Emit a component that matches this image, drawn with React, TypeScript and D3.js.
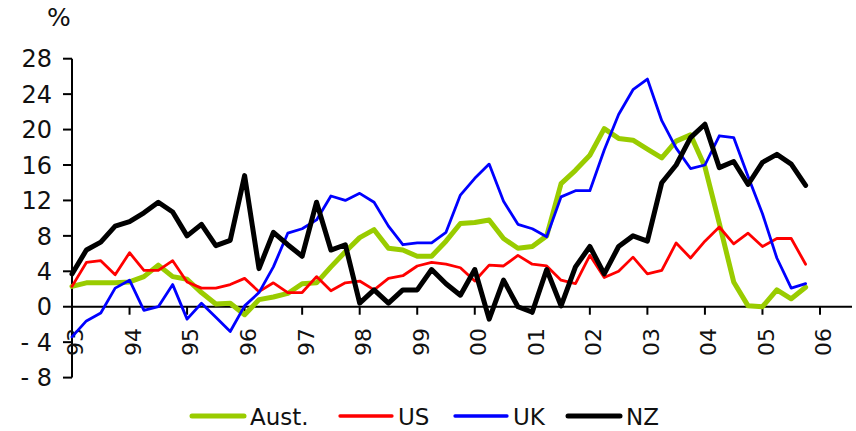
import React from "react";
import * as d3 from "d3";

const yearLabels = ["93","94","95","96","97","98","99","00","01","02","03","04","05","06"];
const yTicks = [-8, -4, 0, 4, 8, 12, 16, 20, 24, 28];

// Quarterly values, 93Q1 .. 05Q4
const aust = [2.3,2.7,2.7,2.7,2.8,3.4,4.7,3.4,3.1,1.6,0.3,0.4,-0.9,0.8,1.1,1.5,2.6,2.7,4.5,6.2,7.8,8.7,6.6,6.4,5.7,5.7,7.4,9.4,9.5,9.8,7.7,6.6,6.8,8.0,13.9,15.4,17.1,20.1,19.0,18.8,17.8,16.8,18.7,19.4,15.8,9.4,2.8,0.1,0.0,1.9,0.9,2.2];
const us = [2.3,5.0,5.2,3.6,6.1,4.1,4.1,5.2,2.8,2.1,2.1,2.5,3.2,1.7,2.7,1.6,1.6,3.4,1.8,2.7,2.9,1.9,3.2,3.5,4.6,5.0,4.8,4.4,2.9,4.7,4.6,5.8,4.8,4.6,3.0,2.6,5.8,3.3,4.0,5.6,3.7,4.1,7.2,5.5,7.4,9.0,7.1,8.3,6.8,7.7,7.7,4.8];
const uk = [-3.4,-1.6,-0.7,2.1,3.0,-0.4,0.0,2.5,-1.4,0.4,-1.2,-2.8,0.1,1.6,4.5,8.3,8.8,9.8,12.5,12.0,12.8,11.8,9.1,7.0,7.2,7.2,8.4,12.6,14.5,16.1,11.9,9.3,8.8,7.9,12.4,13.1,13.1,17.7,21.7,24.5,25.7,21.0,17.9,15.6,16.0,19.3,19.1,14.7,10.5,5.5,2.1,2.6];
const nz = [3.7,6.4,7.3,9.1,9.6,10.6,11.8,10.7,8.0,9.3,6.9,7.5,14.8,4.3,8.4,7.0,5.7,11.8,6.4,7.0,0.4,1.9,0.4,1.9,1.9,4.2,2.6,1.3,4.2,-1.4,3.0,0.0,-0.6,4.2,0.1,4.5,6.8,3.7,6.8,8.0,7.4,14.0,16.0,19.1,20.6,15.7,16.4,13.8,16.3,17.2,16.1,13.7];

const seriesNames = ["Aust.", "US", "UK", "NZ"];
const seriesData = [aust, us, uk, nz];
const seriesColors = ["#99CC00", "#FF0000", "#0000FF", "#000000"];
const seriesWidths = [5, 2.8, 2.8, 5];

export default function App() {
  const W = 856, H = 431;
  const x = d3.scaleLinear().domain([0, 52]).range([72, 820]);
  const y = d3.scaleLinear().domain([-8, 28]).range([377.6, 58.7]);
  const font = "'DejaVu Sans', Verdana, sans-serif";
  const line = d3.line<number>().x((_, i) => x(i)).y((d) => y(d));

  const legendX = [192, 340, 455, 568];

  return (
    <svg width={W} height={H} style={{ position: "absolute", left: 0, top: 0, background: "#fff" }} fontFamily={font}>
      <rect width={W} height={H} fill="#fff" />
      {/* % label */}
      <text x={59} y={26} fontSize={25} textAnchor="middle" fill="#111">%</text>
      {/* y axis */}
      <line x1={72} x2={72} y1={y(28)} y2={y(-8)} stroke="#000" strokeWidth={2} />
      {yTicks.map((t) => (
        <g key={t}>
          <line x1={63} x2={72} y1={y(t)} y2={y(t)} stroke="#000" strokeWidth={2} />
          <text x={52} y={y(t)} dy="0.36em" fontSize={24} textAnchor="end" fill="#111">
            {t < 0 ? "- " + Math.abs(t) : String(t)}
          </text>
        </g>
      ))}
      {/* x axis at zero */}
      <line x1={72} x2={852} y1={y(0)} y2={y(0)} stroke="#000" strokeWidth={2} />
      {yearLabels.map((lab, k) => (
        <g key={lab}>
          <line x1={x(k * 4)} x2={x(k * 4)} y1={y(0)} y2={y(0) + 8} stroke="#000" strokeWidth={2} />
          <text
            transform={`translate(${x(k * 4) + 3.5},${328}) rotate(-90)`}
            textAnchor="end"
            dy="0.36em"
            fontSize={22}
            fill="#111"
          >
            {lab}
          </text>
        </g>
      ))}
      {/* series */}
      {seriesData.map((s, si) => (
        <path
          key={seriesNames[si]}
          d={line(s) || ""}
          fill="none"
          stroke={seriesColors[si]}
          strokeWidth={seriesWidths[si]}
          strokeLinejoin="round"
          strokeLinecap="round"
        />
      ))}
      {/* legend */}
      {seriesNames.map((n, si) => (
        <g key={n}>
          <line
            x1={legendX[si]}
            x2={legendX[si] + 52}
            y1={416}
            y2={416}
            stroke={seriesColors[si]}
            strokeWidth={seriesWidths[si] === 5 ? 5 : 3.3}
            strokeLinecap="round"
          />
          <text x={legendX[si] + 58} y={424.5} fontSize={23} fill="#111">{n}</text>
        </g>
      ))}
    </svg>
  );
}
